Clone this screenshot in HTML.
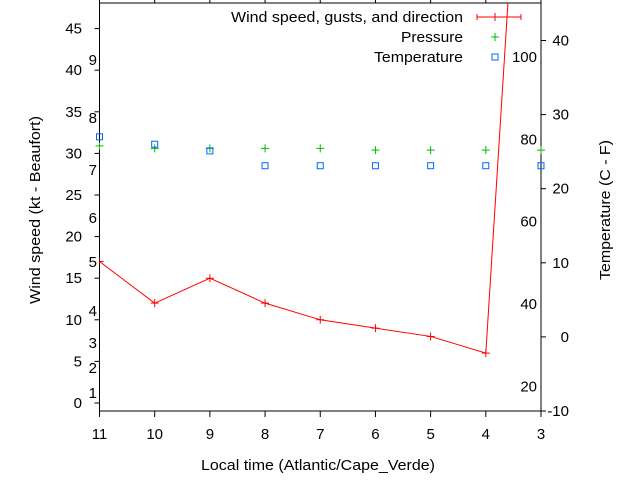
<!DOCTYPE html>
<html><head><meta charset="utf-8"><style>
html,body{margin:0;padding:0;background:#fff;}
svg{display:block;font-family:"Liberation Sans",sans-serif;}
</style></head><body>
<svg id="chart" width="640" height="480">
<rect x="0" y="0" width="640" height="480" fill="#fff"/>
<g id="grid"></g>
<g id="marks"></g>
<g id="legend">
  <text x="463" y="22" text-anchor="end" font-size="15" textLength="232" lengthAdjust="spacingAndGlyphs">Wind speed, gusts, and direction</text>
  <path d="M477 17H521M477 14V20M521 14V20M495 13V21M491 17H499" stroke="#f00" fill="none"/>
  <text x="463" y="42" text-anchor="end" font-size="15" textLength="62" lengthAdjust="spacingAndGlyphs">Pressure</text>
  <path d="M495 33V41M491 37H499" stroke="#0b0"/>
  <text x="463" y="62" text-anchor="end" font-size="15" textLength="89" lengthAdjust="spacingAndGlyphs">Temperature</text>
  <rect x="492" y="54" width="6" height="6" fill="none" stroke="#06f"/>
</g>
<text x="318" y="470" text-anchor="middle" font-size="15" textLength="234" lengthAdjust="spacingAndGlyphs">Local time (Atlantic/Cape_Verde)</text>
<text transform="translate(40,210) rotate(-90)" text-anchor="middle" font-size="15" textLength="188" lengthAdjust="spacingAndGlyphs">Wind speed (kt - Beaufort)</text>
<text transform="translate(610,210) rotate(-90)" text-anchor="middle" font-size="15" textLength="140" lengthAdjust="spacingAndGlyphs">Temperature (C - F)</text>
</svg>
<script>
const hours = [11,10,9,8,7,6,5,4,3];
const windKt = [17,12,15,12,10,9,8,6,111];
const pressure = [30.9,30.6,30.6,30.6,30.6,30.4,30.4,30.4,30.4];
const tempC = [27.0,26.0,25.1,23.1,23.1,23.1,23.1,23.1,23.1];
const ktTicks = [0,5,10,15,20,25,30,35,40,45];
const bftTicks = [[1,393],[2,368],[3,343],[4,311],[5,262],[6,218],[7,170],[8,118],[9,60]];
const cTicks = [-10,0,10,20,30,40];
const fTicks = [20,40,60,80,100];

const L=99.5,R=541,T=3,B=411;
const xs = h => L + (11-h)*(R-L)/8;
const yKt = v => 403 - v*8.32;
const yC = v => B - (v+10)*7.41;
const yF = f => yC((f-32)*5/9);
const NS="http://www.w3.org/2000/svg";
const svg=document.getElementById('chart');
const grid=document.getElementById('grid');
const marks=document.getElementById('marks');
function mk(tag,attrs,parent){const e=document.createElementNS(NS,tag);for(const k in attrs)e.setAttribute(k,attrs[k]);parent.appendChild(e);return e;}

const defs=mk('defs',{},svg);
const cp=mk('clipPath',{id:'clip'},defs);
mk('rect',{x:L,y:T,width:R-L,height:B-T},cp);

const frame=mk('rect',{x:L,y:T,width:R-L,height:B-T,fill:'none',stroke:'#000'},grid);



hours.forEach(h=>{
  const x=xs(h);
  const t=mk('path',{d:`M${x} ${B}v6M${x} ${T}v-6`,stroke:'#000'},grid);
  
  
  const lb=mk('text',{x:x,y:439,'text-anchor':'middle','font-size':15},grid);
  lb.textContent=h;
  
  
});
ktTicks.forEach(v=>{
  const y=yKt(v);
  const t=mk('path',{d:`M${L-5} ${y}H${L}`,stroke:'#000'},grid);
  
  
  const lb=mk('text',{x:82,y:y+5,'text-anchor':'end','font-size':15},grid);
  lb.textContent=v;
  
  
});
bftTicks.forEach(([b,y])=>{
  const lb=mk('text',{x:97,y:y+5,'text-anchor':'end','font-size':15},grid);
  lb.textContent=b;
  
  
});
cTicks.forEach(v=>{
  const y=yC(v);
  const t=mk('path',{d:`M${R} ${y}h5`,stroke:'#000'},grid);
  
  
  const lb=mk('text',{x:569,y:y+5,'text-anchor':'end','font-size':15},grid);
  lb.textContent=v;
  
  
});
fTicks.forEach(f=>{
  const y=yF(f);
  const lb=mk('text',{x:537,y:y+5,'text-anchor':'end','font-size':15},grid);
  lb.textContent=f;
  
  
});

const g=mk('g',{'clip-path':'url(#clip)'},marks);
const pts=hours.map((h,i)=>[xs(h),yKt(windKt[i])]);
const line=mk('polyline',{points:pts.map(p=>p.join(',')).join(' '),fill:'none',stroke:'#f00'},g);


pts.forEach(([x,y])=>{
  const p=mk('path',{d:`M${x-4} ${y}h8M${x} ${y-4}v8`,stroke:'#f00'},g);
  
  
});
hours.forEach((h,i)=>{
  const x=xs(h),y=yKt(pressure[i]);
  const p=mk('path',{d:`M${x-4} ${y}h8M${x} ${y-4}v8`,stroke:'#0b0'},marks);
  
  
});
hours.forEach((h,i)=>{
  const x=xs(h),y=yC(tempC[i]);
  const r=mk('rect',{x:x-3,y:y-3,width:6,height:6,fill:'none',stroke:'#06f'},marks);
  
  
});
</script>
</body></html>
